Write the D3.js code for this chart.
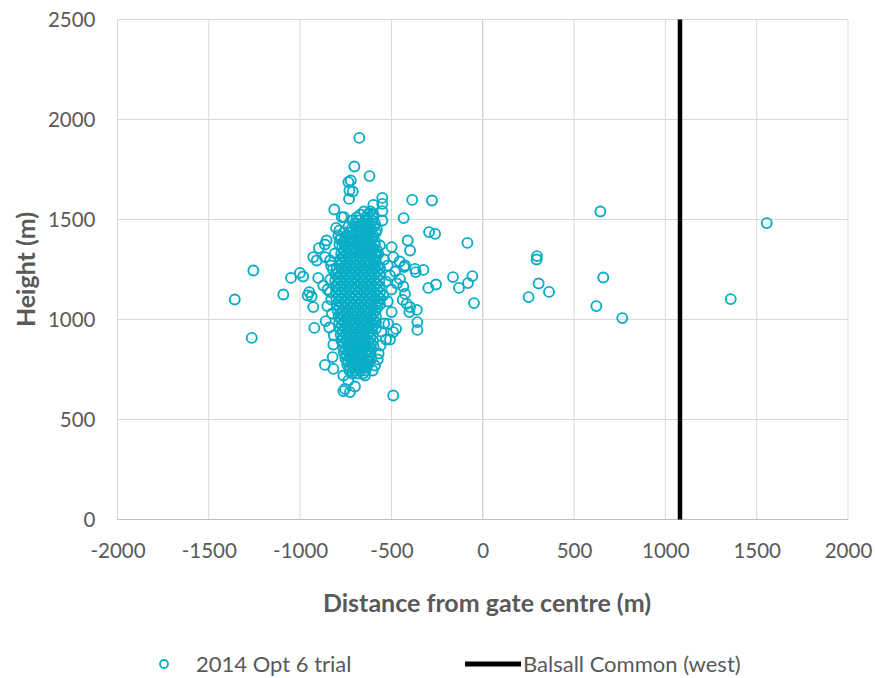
<!DOCTYPE html>
<html>
<head>
<meta charset="utf-8">
<script src="https://cdn.jsdelivr.net/npm/d3@7"></script>
<style>
  body { margin: 0; background: #fff; }
  svg text { font-family: Lato, "Open Sans", sans-serif; fill: #595959; }
</style>
</head>
<body>
<div id="chart"></div>
<script>
// ticks
var xTicks = [-2000, -1500, -1000, -500, 0, 500, 1000, 1500, 2000];
var yTicks = [0, 500, 1000, 1500, 2000, 2500];

// series names
var seriesNames = ["2014 Opt 6 trial", "Balsall Common (west)"];

// Balsall Common (west) reference line
var balsallX = [1080, 1080];
var balsallY = [0, 2500];

// 2014 Opt 6 trial - dense core of the cluster, [distance, height]
var trialCore = [
  [-650,1540],[-615,1540],
  [-670,1525],[-630,1525],[-598,1522],
  [-690,1510],[-640,1510],[-600,1510],
  [-715,1495],[-680,1495],[-643,1495],[-607,1495],
  [-700,1480],[-660,1480],[-625,1480],[-590,1480],
  [-735,1465],[-698,1465],[-662,1465],[-628,1465],[-595,1465],
  [-720,1450],[-680,1450],[-645,1450],[-610,1450],[-580,1450],
  [-760,1435],[-725,1435],[-688,1435],[-652,1435],[-618,1435],[-586,1435],
  [-745,1420],[-705,1420],[-670,1420],[-635,1420],[-600,1420],
  [-775,1405],[-742,1405],[-708,1405],[-672,1405],[-638,1405],[-604,1405],
  [-760,1390],[-725,1390],[-690,1390],[-655,1390],[-620,1390],[-590,1390],
  [-785,1375],[-755,1375],[-722,1375],[-688,1375],[-654,1375],[-622,1375],[-592,1375],
  [-770,1360],[-740,1360],[-705,1360],[-670,1360],[-638,1360],[-605,1360],
  [-760,1345],[-728,1345],[-696,1345],[-665,1345],[-634,1345],[-603,1345],[-578,1345],
  [-775,1330],[-745,1330],[-712,1330],[-680,1330],[-650,1330],[-618,1330],[-588,1330],
  [-766,1315],[-736,1315],[-705,1315],[-675,1315],[-644,1315],[-612,1315],[-582,1315],
  [-780,1300],[-752,1300],[-720,1300],[-690,1300],[-660,1300],[-628,1300],[-596,1300],
  [-770,1285],[-740,1285],[-708,1285],[-677,1285],[-646,1285],[-616,1285],[-586,1285],
  [-785,1270],[-755,1270],[-725,1270],[-695,1270],[-662,1270],[-632,1270],[-600,1270],[-575,1270],
  [-800,1255],[-772,1255],[-742,1255],[-712,1255],[-682,1255],[-652,1255],[-622,1255],[-590,1255],[-562,1255],
  [-790,1240],[-760,1240],[-728,1240],[-698,1240],[-668,1240],[-638,1240],[-606,1240],[-578,1240],
  [-805,1225],[-776,1225],[-746,1225],[-716,1225],[-685,1225],[-655,1225],[-624,1225],[-594,1225],[-565,1225],
  [-792,1210],[-762,1210],[-732,1210],[-700,1210],[-670,1210],[-640,1210],[-610,1210],[-580,1210],
  [-808,1195],[-778,1195],[-748,1195],[-718,1195],[-688,1195],[-657,1195],[-626,1195],[-596,1195],[-566,1195],
  [-795,1180],[-765,1180],[-735,1180],[-703,1180],[-672,1180],[-642,1180],[-612,1180],[-582,1180],
  [-806,1165],[-776,1165],[-746,1165],[-716,1165],[-685,1165],[-654,1165],[-624,1165],[-594,1165],[-564,1165],
  [-792,1150],[-760,1150],[-730,1150],[-700,1150],[-668,1150],[-638,1150],[-608,1150],[-578,1150],
  [-804,1135],[-774,1135],[-744,1135],[-714,1135],[-682,1135],[-651,1135],[-621,1135],[-591,1135],[-563,1135],
  [-790,1120],[-758,1120],[-728,1120],[-697,1120],[-666,1120],[-636,1120],[-605,1120],[-576,1120],
  [-802,1105],[-772,1105],[-742,1105],[-711,1105],[-680,1105],[-650,1105],[-619,1105],[-589,1105],[-562,1105],
  [-788,1090],[-756,1090],[-726,1090],[-695,1090],[-664,1090],[-634,1090],[-604,1090],[-575,1090],
  [-800,1075],[-770,1075],[-740,1075],[-709,1075],[-678,1075],[-648,1075],[-617,1075],[-588,1075],[-563,1075],
  [-785,1060],[-753,1060],[-722,1060],[-692,1060],[-662,1060],[-632,1060],[-602,1060],[-578,1060],
  [-795,1045],[-765,1045],[-735,1045],[-705,1045],[-675,1045],[-645,1045],[-615,1045],[-587,1045],
  [-780,1030],[-750,1030],[-720,1030],[-690,1030],[-660,1030],[-630,1030],[-600,1030],
  [-790,1015],[-762,1015],[-732,1015],[-702,1015],[-672,1015],[-642,1015],[-612,1015],[-585,1015],
  [-775,1000],[-745,1000],[-715,1000],[-685,1000],[-655,1000],[-625,1000],[-598,1000],
  [-786,985],[-758,985],[-728,985],[-698,985],[-668,985],[-638,985],[-610,985],[-585,985],
  [-772,970],[-742,970],[-712,970],[-682,970],[-652,970],[-622,970],[-600,970],
  [-782,955],[-754,955],[-724,955],[-694,955],[-664,955],[-634,955],[-607,955],[-585,955],
  [-768,940],[-738,940],[-708,940],[-678,940],[-648,940],[-620,940],
  [-778,925],[-750,925],[-720,925],[-690,925],[-660,925],[-630,925],[-602,925],
  [-765,910],[-735,910],[-705,910],[-675,910],[-645,910],[-615,910],
  [-774,895],[-746,895],[-716,895],[-686,895],[-656,895],[-627,895],[-600,895],
  [-760,880],[-730,880],[-700,880],[-670,880],[-640,880],[-612,880],
  [-766,865],[-738,865],[-708,865],[-678,865],[-648,865],[-620,865],[-598,865],
  [-752,850],[-722,850],[-692,850],[-662,850],[-632,850],
  [-760,835],[-732,835],[-702,835],[-672,835],[-642,835],[-614,835],
  [-748,820],[-718,820],[-688,820],[-658,820],[-628,820],
  [-752,805],[-725,805],[-695,805],[-665,805],[-636,805],[-610,805],
  [-740,790],[-710,790],[-680,790],[-650,790],[-625,790],
  [-742,775],[-714,775],[-684,775],[-654,775],[-628,775],
  [-728,760],[-698,760],[-668,760],[-640,760],
  [-730,745],[-700,745],[-670,745],[-642,745],
  [-715,730],[-685,730],[-655,730]
];

// 2014 Opt 6 trial - scattered points around and away from the cluster
var trialOuter = [
  [-676,1908],[-703,1765],[-620,1717],[-736,1687],[-723,1695],[-712,1640],[-730,1645],
  [-732,1603],[-813,1550],[-760,1512],[-772,1512],[-803,1458],[-785,1445],[-791,1420],
  [-782,1400],[-855,1395],[-864,1375],[-897,1357],[-928,1312],[-909,1295],[-864,1312],
  [-836,1295],[-1001,1233],[-1256,1245],[-1358,1100],[-1092,1125],[-1050,1208],[-983,1215],
  [-950,1137],[-937,1115],[-959,1120],[-928,1062],[-851,1067],[-901,1208],[-873,1170],
  [-836,1137],[-860,992],[-922,958],[-1265,908],[-818,875],[-822,812],[-864,773],
  [-818,753],[-763,720],[-736,695],[-754,653],[-700,665],[-727,637],[-763,642],
  [-490,620],[-431,1262],[-325,1248],[-367,1237],[-298,1158],[-256,1175],
  [-435,1165],[-426,1128],[-438,1098],[-416,1078],[-398,1062],[-402,1037],[-361,1048],
  [-358,987],[-358,948],[-499,1037],[-517,978],[-490,937],[-475,953],[-508,900],
  [-603,745],[-645,720],[-621,795],[-508,1220],[-453,1203],
  [-550,1608],[-550,1578],[-550,1542],[-550,1495],[-599,1573],[-603,1528],
  [-386,1598],[-278,1595],[-433,1507],[-294,1437],[-261,1428],[-411,1395],[-398,1345],
  [-499,1362],[-490,1312],[-563,1370],[-572,1328],[-426,1270],[-371,1253],
  [-540,1300],[-520,1270],[-530,1190],[-545,1120],[-520,1090],[-500,1150],[-470,1180],
  [-480,1240],[-455,1290],[-540,980],[-555,940],[-530,900],[-560,870],[-570,830],
  [-575,800],[-590,770],[-820,1250],[-835,1200],[-850,1150],[-830,1100],[-825,1030],
  [-840,960],[-815,920],[-810,1330],[-830,1270],
  [-163,1212],[-57,1217],[-130,1158],[-81,1182],[-48,1082],[-84,1383],
  [297,1317],[295,1300],[306,1180],[251,1112],[363,1138],
  [644,1540],[660,1210],[622,1067],[764,1007],[1555,1482],[1358,1102]
];

var W = 875, H = 678;
var margin = { top: 19.5, right: 27, bottom: 158.5, left: 117.5 };
var width = W - margin.left - margin.right,
    height = H - margin.top - margin.bottom;

var svg = d3.select("#chart").append("svg")
    .attr("width", W)
    .attr("height", H);

var g = svg.append("g")
    .attr("transform", "translate(" + margin.left + "," + margin.top + ")");

var x = d3.scaleLinear().domain([-2000, 2000]).range([0, width]);
var y = d3.scaleLinear().domain([0, 2500]).range([height, 0]);

var teal = "#0aadc6";
var plain = function(d) { return String(d); };

// gridlines
g.selectAll(".vgrid").data(xTicks).enter().append("line")
    .attr("x1", function(d) { return x(d); })
    .attr("x2", function(d) { return x(d); })
    .attr("y1", 0).attr("y2", height)
    .attr("stroke", function(d) { return d === 0 ? "#bfbfbf" : "#d9d9d9"; })
    .attr("stroke-width", 1);

g.selectAll(".hgrid").data(yTicks).enter().append("line")
    .attr("y1", function(d) { return y(d); })
    .attr("y2", function(d) { return y(d); })
    .attr("x1", 0).attr("x2", width)
    .attr("stroke", function(d) { return d === 0 ? "#bfbfbf" : "#d9d9d9"; })
    .attr("stroke-width", 1);

// axes (labels only)
var xAxis = g.append("g")
    .attr("transform", "translate(0," + height + ")")
    .call(d3.axisBottom(x).tickValues(xTicks).tickFormat(plain).tickSize(0).tickPadding(24));
var yAxis = g.append("g")
    .call(d3.axisLeft(y).tickValues(yTicks).tickFormat(plain).tickSize(0).tickPadding(22));
[xAxis, yAxis].forEach(function(a) {
    a.select(".domain").remove();
    a.selectAll("text")
        .attr("fill", "#595959")
        .style("font-size", "20.5px")
        .style("font-family", "Lato, sans-serif");
});

// scatter points
var trial = trialCore.concat(trialOuter);
g.selectAll(".pt").data(trial).enter().append("circle")
    .attr("cx", function(d) { return x(d[0]); })
    .attr("cy", function(d) { return y(d[1]); })
    .attr("r", 5)
    .attr("fill", "none")
    .attr("stroke", teal)
    .attr("stroke-width", 1.9);

// Balsall Common line
var line = d3.line()
    .x(function(d) { return x(d[0]); })
    .y(function(d) { return y(d[1]); });
g.append("path")
    .datum(d3.zip(balsallX, balsallY))
    .attr("d", line)
    .attr("stroke", "#000")
    .attr("stroke-width", 4.5)
    .attr("fill", "none");

// axis titles
svg.append("text")
    .attr("x", 487).attr("y", 612)
    .attr("text-anchor", "middle")
    .style("font-size", "25px")
    .style("font-weight", "bold")
    .text("Distance from gate centre (m)");

svg.append("text")
    .attr("transform", "translate(35," + (margin.top + height / 2) + ") rotate(-90)")
    .attr("text-anchor", "middle")
    .style("font-size", "25px")
    .style("font-weight", "bold")
    .text("Height (m)");

// legend
var leg = svg.append("g");
leg.append("circle")
    .attr("cx", 164).attr("cy", 664).attr("r", 4)
    .attr("fill", "none").attr("stroke", teal).attr("stroke-width", 1.8);
leg.append("text")
    .attr("x", 196).attr("y", 671.5)
    .style("font-size", "22px")
    .text(seriesNames[0]);
leg.append("line")
    .attr("x1", 465).attr("x2", 521).attr("y1", 664).attr("y2", 664)
    .attr("stroke", "#000").attr("stroke-width", 5);
leg.append("text")
    .attr("x", 523).attr("y", 671.5)
    .style("font-size", "22px")
    .text(seriesNames[1]);
</script>
</body>
</html>
